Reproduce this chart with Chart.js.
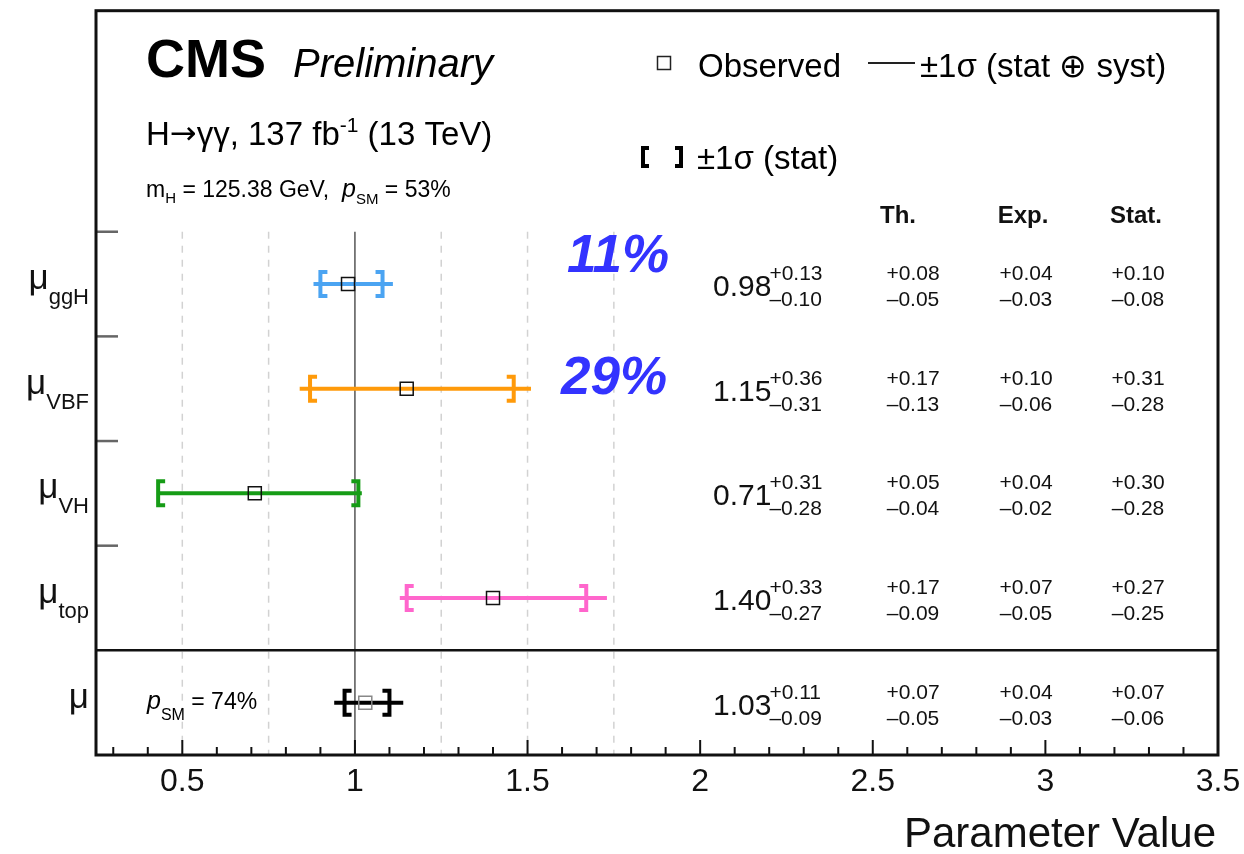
<!DOCTYPE html>
<html>
<head>
<meta charset="utf-8">
<script src="https://cdn.jsdelivr.net/npm/chart.js@4.4.1/dist/chart.umd.min.js"></script>
<style>
  html, body { margin: 0; padding: 0; background: #fff; }
  #plot { display: block; }
</style>
</head>
<body>
<canvas id="plot" width="1244" height="854"></canvas>
<script>
// signal strength fit results, one entry per row (top to bottom)
const paramNames = ['ggH', 'VBF', 'VH', 'top', ''];
const rowPos = [4.5, 3.5, 2.5, 1.5, 0.5];
const bestFit = [0.98, 1.15, 0.71, 1.40, 1.03];
const totUp = [0.13, 0.36, 0.31, 0.33, 0.11];
const totDown = [0.10, 0.31, 0.28, 0.27, 0.09];
const thUp = [0.08, 0.17, 0.05, 0.17, 0.07];
const thDown = [0.05, 0.13, 0.04, 0.09, 0.05];
const expUp = [0.04, 0.10, 0.04, 0.07, 0.04];
const expDown = [0.03, 0.06, 0.02, 0.05, 0.03];
const statUp = [0.10, 0.31, 0.30, 0.27, 0.07];
const statDown = [0.08, 0.28, 0.28, 0.25, 0.06];
const barColours = ['#4ba4f2', '#ff9a0a', '#169c16', '#ff66cc', '#000000'];
const markerColours = ['#111', '#111', '#111', '#111', '#888'];

const xTickLabels = [0.5, 1, 1.5, 2, 2.5, 3, 3.5];
const dashedAt = [0.5, 0.75, 1.25, 1.5, 1.75];
const rowEdges = [5, 4, 3, 2];
const corrLabels = ['11%', '29%'];
const corrRows = [4.8, 3.63];
const corrLeft = [567, 561];

const SANS = '"Liberation Sans", Arial, Helvetica, sans-serif';
const font = (size, style) => (style ? style + ' ' : '') + size + 'px ' + SANS;
const fmt = v => v.toFixed(2);

// draw a list of [text, font, dy] pieces as one line
function textRun(ctx, x, y, parts, align) {
  let w = 0;
  parts.forEach(p => { ctx.font = p[1]; w += ctx.measureText(p[0]).width; });
  let cx = align === 'right' ? x - w : align === 'center' ? x - w / 2 : x;
  ctx.textAlign = 'left';
  ctx.textBaseline = 'alphabetic';
  parts.forEach(p => {
    ctx.font = p[1];
    ctx.fillText(p[0], cx, y + (p[2] || 0));
    cx += ctx.measureText(p[0]).width;
  });
}

function bracket(ctx, x, y, h, serif, dir) {
  ctx.beginPath();
  ctx.moveTo(x + dir * serif, y - h);
  ctx.lineTo(x, y - h);
  ctx.lineTo(x, y + h);
  ctx.lineTo(x + dir * serif, y + h);
  ctx.stroke();
}

const errorLines = bestFit.map((v, i) => ({
  type: 'line',
  data: [{ x: v - totDown[i], y: rowPos[i] }, { x: v + totUp[i], y: rowPos[i] }],
  borderColor: barColours[i],
  borderWidth: 4,
  pointRadius: 0,
  order: 2
}));

const decorations = {
  id: 'decorations',
  beforeDatasetsDraw(chart) {
    const { ctx, chartArea: a, scales: { x, y } } = chart;
    ctx.save();
    const yTop = y.getPixelForValue(5);
    // dashed reference lines
    ctx.strokeStyle = '#d2d2d2';
    ctx.lineWidth = 1.5;
    ctx.setLineDash([7, 7]);
    dashedAt.forEach(v => {
      const px = x.getPixelForValue(v);
      ctx.beginPath(); ctx.moveTo(px, yTop); ctx.lineTo(px, a.bottom); ctx.stroke();
    });
    ctx.setLineDash([]);
    // SM expectation
    ctx.strokeStyle = '#555';
    ctx.lineWidth = 1.5;
    const p1 = x.getPixelForValue(1);
    ctx.beginPath(); ctx.moveTo(p1, yTop); ctx.lineTo(p1, a.bottom); ctx.stroke();
    // row separators on the left axis
    ctx.strokeStyle = '#666';
    ctx.lineWidth = 2.5;
    rowEdges.forEach(v => {
      const py = y.getPixelForValue(v);
      ctx.beginPath(); ctx.moveTo(a.left, py); ctx.lineTo(a.left + 22, py); ctx.stroke();
    });
    // separate the combined mu from the per-process ones
    ctx.strokeStyle = '#111';
    const ps = y.getPixelForValue(1);
    ctx.beginPath(); ctx.moveTo(a.left, ps); ctx.lineTo(a.right, ps); ctx.stroke();
    ctx.restore();
  },
  afterDatasetsDraw(chart) {
    const { ctx, chartArea: a, scales: { x, y } } = chart;
    ctx.save();
    // stat-only brackets
    ctx.lineWidth = 4;
    ctx.lineJoin = 'miter';
    bestFit.forEach((v, i) => {
      const py = y.getPixelForValue(rowPos[i]);
      ctx.strokeStyle = barColours[i];
      bracket(ctx, x.getPixelForValue(v - statDown[i]), py, 12, 7, 1);
      bracket(ctx, x.getPixelForValue(v + statUp[i]), py, 12, 7, -1);
    });

    // x axis ticks (inside the frame)
    ctx.strokeStyle = '#111';
    ctx.lineWidth = 2;
    for (let k = 3; k <= 35; k++) {
      const v = k / 10;
      const px = x.getPixelForValue(v);
      const len = k % 5 === 0 ? 15 : 8;
      ctx.beginPath(); ctx.moveTo(px, a.bottom); ctx.lineTo(px, a.bottom - len); ctx.stroke();
    }

    // frame
    ctx.lineWidth = 3;
    ctx.strokeRect(a.left, a.top, a.right - a.left, a.bottom - a.top);

    ctx.fillStyle = '#111';
    // x tick labels
    ctx.font = font(32);
    ctx.textAlign = 'center';
    ctx.textBaseline = 'alphabetic';
    xTickLabels.forEach(v => ctx.fillText(String(v), x.getPixelForValue(v), a.bottom + 36));
    textRun(ctx, a.right - 2, 847, [['Parameter Value', font(42)]], 'right');

    // row labels
    paramNames.forEach((n, i) => {
      const py = y.getPixelForValue(rowPos[i]);
      const parts = [['\u03bc', font(35), 0]];
      if (n) parts.push([n, font(22), 15]);
      textRun(ctx, a.left - 7, py + 5, parts, 'right');
    });

    // numeric results
    const cols = [[thUp, thDown, 913], [expUp, expDown, 1026], [statUp, statDown, 1138]];
    bestFit.forEach((v, i) => {
      const py = y.getPixelForValue(rowPos[i]);
      ctx.font = font(30);
      const mainTxt = fmt(v);
      const mw = ctx.measureText(mainTxt).width;
      textRun(ctx, 713, py + 12, [[mainTxt, font(30)]]);
      textRun(ctx, 711 + mw, py - 4, [['+' + fmt(totUp[i]), font(21)]]);
      textRun(ctx, 711 + mw, py + 22, [['\u2013' + fmt(totDown[i]), font(21)]]);
      cols.forEach(c => {
        textRun(ctx, c[2], py - 4, [['+' + fmt(c[0][i]), font(21)]], 'center');
        textRun(ctx, c[2], py + 22, [['\u2013' + fmt(c[1][i]), font(21)]], 'center');
      });
    });

    // column headers
    [['Th.', 898], ['Exp.', 1023], ['Stat.', 1136]].forEach(h =>
      textRun(ctx, h[1], 223, [[h[0], font(24, 'bold')]], 'center'));

    // correlation labels
    ctx.fillStyle = '#3333ff';
    corrLabels.forEach((t, i) => {
      textRun(ctx, corrLeft[i], y.getPixelForValue(corrRows[i]) + 19, [[t, font(53, 'italic bold')]]);
    });

    // header text
    ctx.fillStyle = '#000';
    textRun(ctx, 146, 77, [['CMS', font(54, 'bold')]]);
    textRun(ctx, 293, 77, [['Preliminary', font(40, 'italic')]]);
    textRun(ctx, 146, 145, [['H', font(33)], ['\u2192', '32px "DejaVu Sans", sans-serif', -1],
      ['\u03b3\u03b3, 137 fb', font(33)], ['-1', font(21), -13], [' (13 TeV)', font(33)]]);
    textRun(ctx, 146, 197, [['m', font(23)], ['H', font(15), 6], [' = 125.38 GeV,  ', font(23)],
      ['p', font(25, 'italic')], ['SM', font(15), 7], [' = 53%', font(23)]]);
    const pyMu = y.getPixelForValue(0.5);
    textRun(ctx, 147, pyMu + 6, [['p', font(25, 'italic')], ['SM', font(16), 11], [' = 74%', font(23)]]);

    // legend
    ctx.strokeStyle = '#222';
    ctx.lineWidth = 1.5;
    ctx.strokeRect(657.5, 56.5, 13, 13);
    textRun(ctx, 698, 77, [['Observed', font(33)]]);
    ctx.lineWidth = 2;
    ctx.beginPath(); ctx.moveTo(868, 63); ctx.lineTo(915, 63); ctx.stroke();
    textRun(ctx, 920, 77, [['\u00b11\u03c3 (stat \u2295 syst)', font(33)]]);
    ctx.lineWidth = 4;
    ctx.strokeStyle = '#000';
    bracket(ctx, 643, 157, 9, 6, 1);
    bracket(ctx, 681, 157, 9, 6, -1);
    textRun(ctx, 697, 169, [['\u00b11\u03c3 (stat)', font(33)]]);
    ctx.restore();
  }
};

new Chart(document.getElementById('plot'), {
  type: 'scatter',
  data: {
    datasets: [
      {
        type: 'scatter',
        data: bestFit.map((v, i) => ({ x: v, y: rowPos[i] })),
        pointStyle: 'rect',
        pointRadius: 9.2,
        backgroundColor: 'rgba(0,0,0,0)',
        borderColor: markerColours,
        borderWidth: 1.5,
        order: 1
      },
      ...errorLines
    ]
  },
  options: {
    responsive: false,
    animation: false,
    devicePixelRatio: 1,
    layout: { padding: { left: 96, right: 26, top: 10, bottom: 99 } },
    scales: {
      x: { type: 'linear', display: false, min: 0.25, max: 3.5 },
      y: { type: 'linear', display: false, min: 0, max: 7.112 }
    },
    plugins: { legend: { display: false }, tooltip: { enabled: false } }
  },
  plugins: [decorations]
});
</script>
</body>
</html>
